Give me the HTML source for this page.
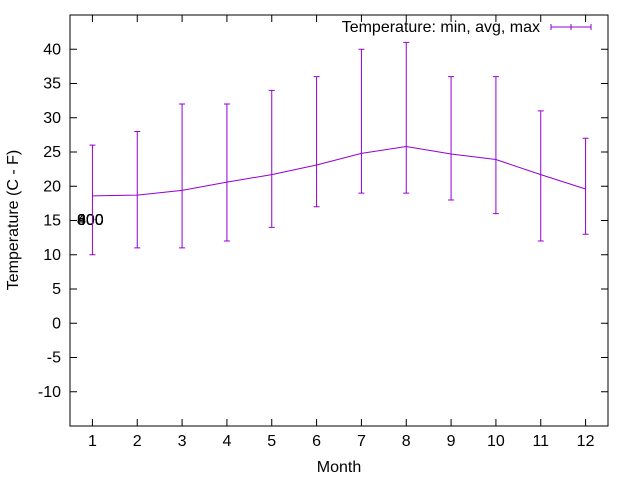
<!DOCTYPE html>
<html><head><meta charset="utf-8"><style>
body{margin:0;background:#fff;}
svg text{font-family:"Liberation Sans",sans-serif;font-size:16px;fill:#000;}
</style></head><body>
<svg id="c" width="640" height="480" xmlns="http://www.w3.org/2000/svg"></svg>
<script>
const months=[1,2,3,4,5,6,7,8,9,10,11,12];
const avgT=[18.6,18.7,19.4,20.6,21.7,23.1,24.8,25.8,24.7,23.9,21.7,19.6];
const minT=[10,11,11,12,14,17,19,19,18,16,12,13];
const maxT=[26,28,32,32,34,36,40,41,36,36,31,27];
const yTicks=[-10,-5,0,5,10,15,20,25,30,35,40];
const overlapLabels=["400","800","600","900"];
const L=70,R=608,T=15,B=426,xmin=0.5,xmax=12.5,ymin=-15,ymax=45;
const X=v=>L+(v-xmin)/(xmax-xmin)*(R-L);
const Y=v=>B-(v-ymin)/(ymax-ymin)*(B-T);
const svg=document.getElementById('c');const NS='http://www.w3.org/2000/svg';
function mk(t,a,p){const e=document.createElementNS(NS,t);for(const k in a)e.setAttribute(k,a[k]);(p||svg).appendChild(e);return e;}
let e;
e=mk('rect',{x:L,y:T,width:R-L,height:B-T,fill:'none',stroke:'#000','stroke-width':1});


yTicks.forEach(v=>{const y=Y(v);
 e=mk('path',{d:`M${L} ${y}h7M${R} ${y}h-7`,stroke:'#000'});
 
 
 e=mk('text',{x:L-9,y:y+5,'text-anchor':'end'});e.textContent=v;
 
 
});
months.forEach(m=>{const x=X(m);
 e=mk('path',{d:`M${x} ${B}v-7M${x} ${T}v7`,stroke:'#000'});
 
 
 e=mk('text',{x:x,y:B+20,'text-anchor':'middle'});e.textContent=m;
 
 
});
e=mk('text',{x:339,y:472,'text-anchor':'middle'});e.textContent='Month';


e=mk('text',{x:0,y:0,'text-anchor':'middle',transform:'translate(18,220) rotate(-90)'});e.textContent='Temperature (C - F)';


overlapLabels.forEach(s=>{e=mk('text',{x:77,y:225});e.textContent=s;
 
 
});
const col='#9400d3';
months.forEach((m,i)=>{const x=X(m);
 e=mk('path',{d:`M${x} ${Y(minT[i])}V${Y(maxT[i])}M${x-3} ${Y(minT[i])}h6M${x-3} ${Y(maxT[i])}h6`,stroke:col,fill:'none'});
 
 
});
e=mk('polyline',{points:months.map((m,i)=>X(m)+','+Y(avgT[i])).join(' '),fill:'none',stroke:col});


e=mk('text',{x:540,y:32,'text-anchor':'end'});e.textContent='Temperature: min, avg, max';


e=mk('path',{d:'M551 27h40M551 24v6M591 24v6M571 24v6',stroke:col});


</script>
</body></html>
